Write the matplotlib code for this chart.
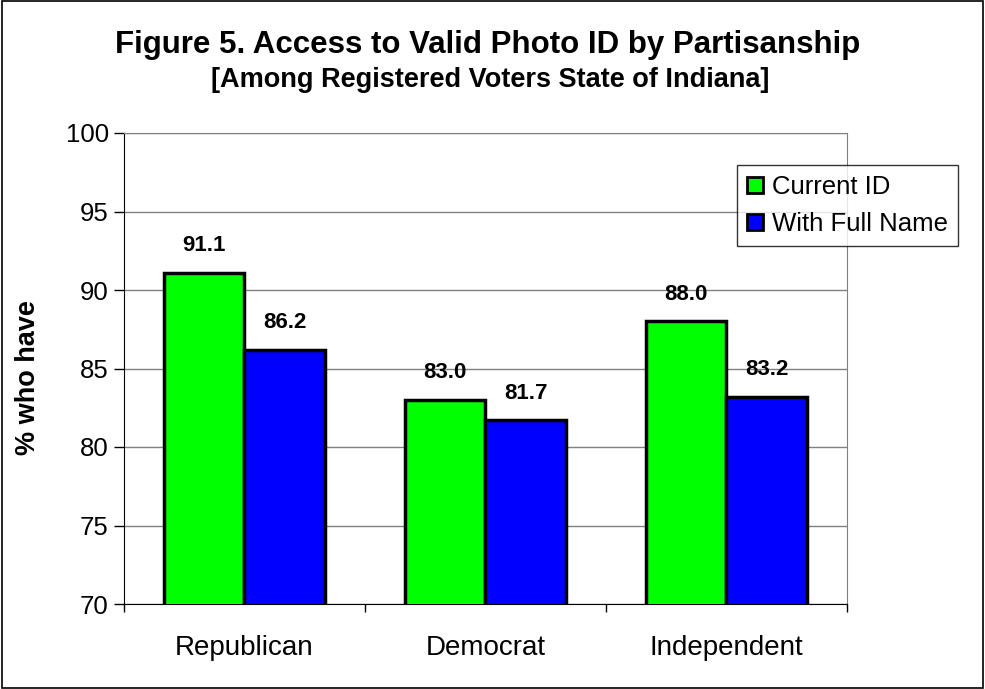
import numpy as np
import matplotlib.pyplot as plt
from matplotlib.patches import Rectangle

plt.rcParams['font.family'] = ['Liberation Sans', 'DejaVu Sans']

categories = ["Republican", "Democrat", "Independent"]
current_id = [91.1, 83.0, 88.0]
full_name = [86.2, 81.7, 83.2]
series_names = ["Current ID", "With Full Name"]
yticks = [70, 75, 80, 85, 90, 95, 100]

fig = plt.figure(figsize=(9.85, 6.89), dpi=100)
# outer chart border
fig.patches.append(Rectangle((0.002, 0.002), 0.996, 0.996, transform=fig.transFigure,
                             fill=False, edgecolor="black", linewidth=1.2))

ax = fig.add_axes([124 / 985, 1 - 604 / 689, (847 - 124) / 985, (604 - 133) / 689])

x = np.arange(len(categories))
w = 1 / 3
b1 = ax.bar(x - w / 2, current_id, w, color="#00ff00", edgecolor="black",
            linewidth=2.5, label=series_names[0], zorder=3)
b2 = ax.bar(x + w / 2, full_name, w, color="#0000ff", edgecolor="black",
            linewidth=2.5, label=series_names[1], zorder=3)

for bars, vals in [(b1, current_id), (b2, full_name)]:
    for r, v in zip(bars, vals):
        ax.text(r.get_x() + r.get_width() / 2, v + 1.05, f"{v:.1f}", ha="center",
                va="bottom", fontsize=16, fontweight="bold")

ax.set_ylim(70, 100)
ax.set_xlim(-0.5, 2.5)
ax.set_yticks(yticks)
ax.set_yticklabels([str(t) for t in yticks], fontsize=18.5)
ax.yaxis.grid(True, color="#808080", linewidth=1, zorder=0)
ax.set_axisbelow(True)

ax.set_xticks(x)
ax.set_xticklabels(categories, fontsize=20)
ax.tick_params(axis="x", length=0, pad=22)
ax.set_xticks([-0.5, 0.5, 1.5, 2.5], minor=True)
ax.tick_params(axis="x", which="minor", length=6, width=1, direction="out")
ax.tick_params(axis="y", length=7, width=1, direction="out", pad=4)

for s in ["top", "right"]:
    ax.spines[s].set_color("#808080")
for s in ["left", "bottom"]:
    ax.spines[s].set_color("black")

ax.set_ylabel("% who have", fontsize=19.5, fontweight="bold")
ax.yaxis.set_label_coords(-0.115, 0.48)

fig.text(488 / 985, 1 - 45 / 689, "Figure 5. Access to Valid Photo ID by Partisanship",
         ha="center", va="center", fontsize=22.5, fontweight="bold")
fig.text(490 / 985, 1 - 80 / 689, "[Among Registered Voters State of Indiana]",
         ha="center", va="center", fontsize=19.5, fontweight="bold")

leg = fig.legend(loc="upper left", bbox_to_anchor=(737 / 985, 1 - 165 / 689),
                 fontsize=18.5, frameon=True, fancybox=False, edgecolor="black",
                 handlelength=0.6, handleheight=0.6, handletextpad=0.35,
                 borderpad=0.4, labelspacing=0.5, borderaxespad=0)
leg.get_frame().set_linewidth(1)
for h in leg.legend_handles:
    h.set_linewidth(2)

fig.savefig("out.png", dpi=100)
